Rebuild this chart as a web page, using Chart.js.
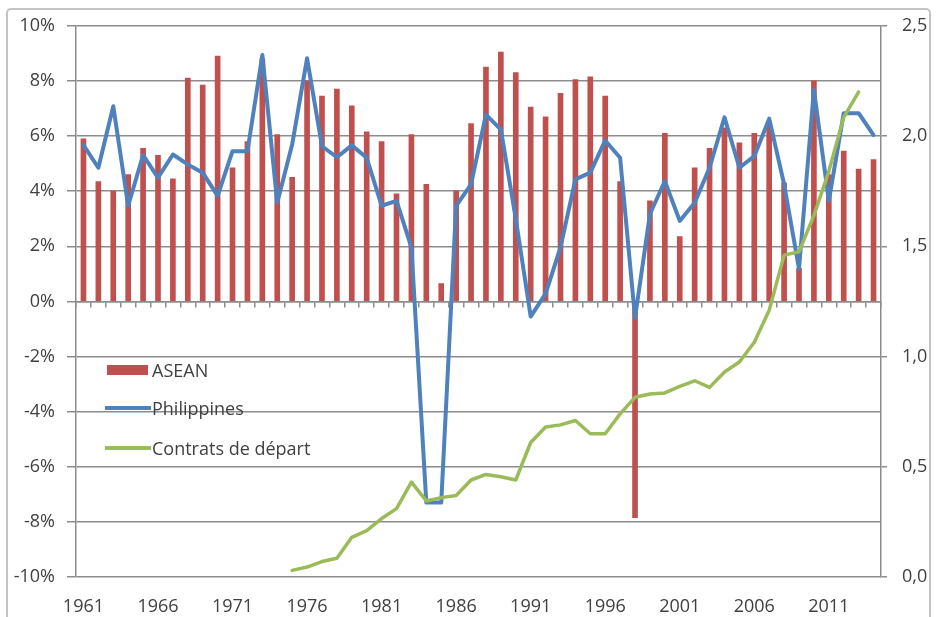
<!DOCTYPE html>
<html><head><meta charset="utf-8">
<script src="https://cdn.jsdelivr.net/npm/chart.js@4"></script>
<style>
html,body{margin:0;padding:0;background:#fff;}
#wrap{position:relative;width:937px;height:617px;overflow:hidden;background:#fff;}
#frame{position:absolute;left:6px;top:8px;width:921px;height:700px;border:2px solid #c4c4c4;border-radius:5px;}
canvas{position:absolute;left:0;top:0;}
.lg{position:absolute;font-family:'Open Sans',sans-serif;font-size:18px;color:#404040;line-height:22px;white-space:nowrap;}
.sw{position:absolute;}
</style></head>
<body><div id="wrap"><div id="frame"></div><canvas id="c" width="937" height="617"></canvas>
<div class="sw" style="left:107px;top:365px;width:41px;height:10px;background:#C0504D"></div>
<div class="lg" style="left:152px;top:359px">ASEAN</div>
<div class="sw" style="left:105px;top:406px;width:46px;height:4px;background:#4F81BD"></div>
<div class="lg" style="left:152px;top:397px">Philippines</div>
<div class="sw" style="left:105px;top:446px;width:46px;height:4px;background:#9BBB59"></div>
<div class="lg" style="left:152px;top:437px">Contrats de départ</div>
</div>
<script>
const years = ['1961','1962','1963','1964','1965','1966','1967','1968','1969','1970',
  '1971','1972','1973','1974','1975','1976','1977','1978','1979','1980',
  '1981','1982','1983','1984','1985','1986','1987','1988','1989','1990',
  '1991','1992','1993','1994','1995','1996','1997','1998','1999','2000',
  '2001','2002','2003','2004','2005','2006','2007','2008','2009','2010',
  '2011','2012','2013','2014'];
const asean = [5.9,4.35,4.0,4.6,5.55,5.3,4.45,8.1,7.85,8.9,
  4.85,5.8,8.8,6.05,4.5,8.0,7.45,7.7,7.1,6.15,
  5.8,3.9,6.05,4.25,0.65,4.0,6.45,8.5,9.05,8.3,
  7.05,6.7,7.55,8.05,8.15,7.45,4.35,-7.85,3.65,6.1,
  2.35,4.85,5.55,6.3,5.75,6.1,6.5,4.3,1.2,8.0,
  4.6,5.45,4.8,5.15];
const philippines = [5.67,4.85,7.08,3.47,5.31,4.49,5.33,4.97,4.67,3.83,
  5.45,5.45,8.94,3.58,5.69,8.82,5.63,5.23,5.66,5.21,
  3.47,3.65,1.96,-7.3,-7.3,3.47,4.25,6.78,6.23,3.0,
  -0.55,0.28,1.96,4.43,4.67,5.84,5.21,-0.6,3.17,4.37,
  2.92,3.58,4.85,6.68,4.85,5.27,6.63,4.25,1.18,7.68,
  3.65,6.83,6.83,6.03];
const contrats = [null,null,null,null,null,null,null,null,null,null,
  null,null,null,null,0.03,0.045,0.07,0.085,0.18,0.21,
  0.265,0.31,0.43,0.345,0.36,0.37,0.44,0.465,0.455,0.44,
  0.61,0.68,0.69,0.71,0.65,0.65,0.74,0.815,0.83,0.835,
  0.865,0.89,0.86,0.93,0.975,1.065,1.21,1.46,1.475,1.64,
  1.84,2.085,2.2,null];
const leftTicks = [-10,-8,-6,-4,-2,0,2,4,6,8,10];
const rightTicks = [0,0.5,1,1.5,2,2.5];

const gridCol = '#8c8c8c';
const tickFont = {family:'Open Sans', size:18};
const txtCol = '#404040';

new Chart(document.getElementById('c'), {
  type:'bar',
  data:{
    labels: years,
    datasets:[
      {type:'line', label:'Contrats de départ', data:contrats, xAxisID:'x', yAxisID:'y2',
       borderColor:'#9BBB59', borderWidth:3.5, pointRadius:0, tension:0, order:0,
       borderJoinStyle:'round', borderCapStyle:'round'},
      {type:'line', label:'Philippines', data:philippines, xAxisID:'x', yAxisID:'y',
       borderColor:'#4F81BD', borderWidth:4, pointRadius:0, tension:0, order:1,
       borderJoinStyle:'round', borderCapStyle:'round'},
      {type:'bar', label:'ASEAN', data:asean, xAxisID:'x', yAxisID:'y',
       backgroundColor:'#C0504D', barThickness:5, order:2}
    ]
  },
  options:{
    responsive:false, animation:false,
    layout:{padding:{top:23,left:0,right:0,bottom:0}},
    plugins:{legend:{display:false}, tooltip:{enabled:false}},
    scales:{
      x:{position:'bottom', offset:true,
         grid:{display:false, drawTicks:false}, border:{display:false},
         ticks:{autoSkip:false, maxRotation:0, minRotation:0, padding:19, color:txtCol, font:tickFont,
                callback:(v,i)=> i%5===0 ? years[i] : ''},
         afterFit:s=>{s.height=40;}},
      x2:{type:'category', axis:'x', position:{y:0}, offset:true,
          grid:{offset:true, drawOnChartArea:false, drawTicks:true, tickLength:5, color:gridCol, lineWidth:1.5},
          border:{display:true, color:gridCol, width:1.5},
          ticks:{display:false}},
      y:{position:'left', min:-10, max:10,
         afterBuildTicks:s=>{s.ticks = leftTicks.map(v=>({value:v}));},
         ticks:{padding:12, color:txtCol, font:tickFont, callback:v=> v+'%'},
         grid:{color:gridCol, lineWidth:1.5, tickLength:9},
         border:{display:true, color:gridCol, width:1.5},
         afterFit:s=>{s.width=76;}},
      y2:{position:'right', min:0, max:2.5,
          afterBuildTicks:s=>{s.ticks = rightTicks.map(v=>({value:v}));},
          ticks:{padding:15, color:txtCol, font:tickFont, callback:v=> v.toFixed(1).replace('.',',')},
          grid:{drawOnChartArea:false, tickLength:6, color:gridCol, lineWidth:1.5},
          border:{display:true, color:gridCol, width:1.5},
          afterFit:s=>{s.width=56;}}
    }
  }
});
</script>
</body></html>
